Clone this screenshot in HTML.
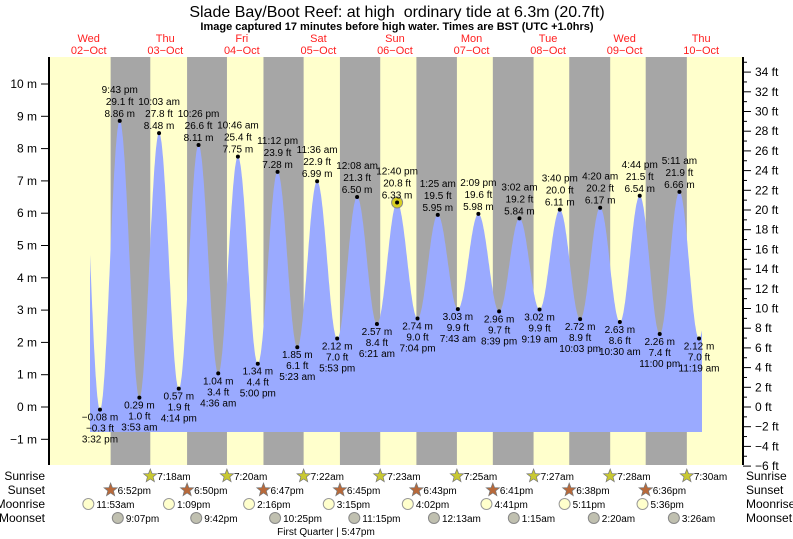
<!DOCTYPE html>
<html><head><meta charset="utf-8"><style>
html,body{margin:0;padding:0;background:#fff;}
svg{display:block;font-family:"Liberation Sans",sans-serif;}
</style></head><body>
<svg id="s" width="793" height="539" viewBox="0 0 793 539" xmlns="http://www.w3.org/2000/svg"></svg>
<script>
const S=document.getElementById('s');let h='';
const X=t=>127+3.19*t, Y=m=>407-32.3*m;
const L=49,R=743,T=57,B=465;
function tx(x,y,s,o){o=o||{};h+=`<text x="${x}" y="${y}" font-size="${o.fs||10}" text-anchor="${o.a||'middle'}" fill="${o.c||'#000'}" ${o.b?'font-weight="bold"':''}>${s}</text>`;}
h+=`<rect x="${L}" y="${T}" width="${R-L}" height="${B-T}" fill="#ffffcc"/>`;
const sunset=[-5.13,18.83,42.78,66.75,90.72,114.68,138.63,162.6];
const sunrise=[7.3,31.33,55.37,79.38,103.42,127.45,151.47,175.5];
for(let i=0;i<8;i++)h+=`<rect x="${X(sunset[i])}" y="${T}" width="${X(sunrise[i])-X(sunset[i])}" height="${B-T}" fill="#a6a6a6"/>`;
const ev=[[-14.6,9.2],[-8.47,-0.08],[-2.28,8.86],[3.88,0.29],[10.05,8.48],[16.23,0.57],[22.43,8.11],[28.6,1.04],[34.77,7.75],[41,1.34],[47.2,7.28],[53.38,1.85],[59.6,6.99],[65.88,2.12],[72.13,6.5],[78.35,2.57],[84.67,6.33],[91.07,2.74],[97.42,5.95],[103.72,3.03],[110.15,5.98],[116.65,2.96],[123.03,5.84],[129.32,3.02],[135.67,6.11],[142.05,2.72],[148.33,6.17],[154.5,2.63],[160.73,6.54],[167,2.26],[173.18,6.66],[179.32,2.12],[185.5,6.7]];
function lvl(t){for(let i=0;i<ev.length-1;i++){const a=ev[i],b=ev[i+1];if(t>=a[0]&&t<=b[0]){const f=(t-a[0])/(b[0]-a[0]);return a[1]+(b[1]-a[1])*(1-Math.cos(Math.PI*f))/2;}}return 0;}
const t0=(90-127)/3.19,t1=(702-127)/3.19;let p=`M${X(t0)},432`;
for(let t=t0;t<=t1;t+=0.1)p+=`L${X(t).toFixed(1)},${Y(lvl(t)).toFixed(1)}`;
p+=`L${X(t1)},${Y(lvl(t1)).toFixed(1)}L${X(t1)},432Z`;
h+=`<path d="${p}" fill="#9aaaff"/>`;
const lab=[["3:32 pm","-0.3",-0.08],["9:43 pm","29.1",8.86],["3:53 am","1.0",0.29],["10:03 am","27.8",8.48],["4:14 pm","1.9",0.57],["10:26 pm","26.6",8.11],["4:36 am","3.4",1.04],["10:46 am","25.4",7.75],["5:00 pm","4.4",1.34],["11:12 pm","23.9",7.28],["5:23 am","6.1",1.85],["11:36 am","22.9",6.99],["5:53 pm","7.0",2.12],["12:08 am","21.3",6.5],["6:21 am","8.4",2.57],["12:40 pm","20.8",6.33],["7:04 pm","9.0",2.74],["1:25 am","19.5",5.95],["7:43 am","9.9",3.03],["2:09 pm","19.6",5.98],["8:39 pm","9.7",2.96],["3:02 am","19.2",5.84],["9:19 am","9.9",3.02],["3:40 pm","20.0",6.11],["10:03 pm","8.9",2.72],["4:20 am","20.2",6.17],["10:30 am","8.6",2.63],["4:44 pm","21.5",6.54],["11:00 pm","7.4",2.26],["5:11 am","21.9",6.66],["11:19 am","7.0",2.12]];
lab.forEach((l,i)=>{const x=X(ev[i+1][0]),y=Y(l[2]);const ms=l[2].toFixed(2).replace('-','\u2212')+' m',fs=l[1].replace('-','\u2212')+' ft';
if(i==15)h+=`<circle cx="${x}" cy="${y}" r="5.5" fill="#d8d020" stroke="#888" stroke-width="1"/>`;
h+=`<circle cx="${x}" cy="${y}" r="2" fill="#000"/>`;
if(i%2==1){tx(x,y-4,ms);tx(x,y-16,fs);tx(x,y-28,l[0]);}else{tx(x,y+11,ms);tx(x,y+22,fs);tx(x,y+33,l[0]);}});
h+=`<line x1="${L}" y1="${T}" x2="${L}" y2="${B}" stroke="#000" stroke-width="2"/><line x1="${R}" y1="${T}" x2="${R}" y2="${B}" stroke="#000" stroke-width="2"/>`;
for(let m=-1;m<=10;m++){const y=Y(m);h+=`<line x1="${L-8}" y1="${y}" x2="${L}" y2="${y}" stroke="#000"/>`;tx(37,y+4,(m<0?'\u2212'+(-m):m)+' m',{fs:12,a:'end'});}
for(let f=-6;f<=35;f++){const y=407-9.85*f;if(y<T)continue;const mj=f%2==0;h+=`<line x1="${R}" y1="${y}" x2="${R+(mj?8:4)}" y2="${y}" stroke="#000"/>`;if(mj)tx(755,y+4,(f<0?'\u2212'+(-f):f)+' ft',{fs:12,a:'start'});}
tx(397,17,'Slade Bay/Boot Reef: at high\u00a0 ordinary tide at 6.3m (20.7ft)',{fs:16});
tx(397,30,'Image captured 17 minutes before high water. Times are BST (UTC +1.0hrs)',{fs:11,b:1});
const days=[['Wed','02\u2212Oct'],['Thu','03\u2212Oct'],['Fri','04\u2212Oct'],['Sat','05\u2212Oct'],['Sun','06\u2212Oct'],['Mon','07\u2212Oct'],['Tue','08\u2212Oct'],['Wed','09\u2212Oct'],['Thu','10\u2212Oct']];
days.forEach((d,i)=>{const x=X(-12+24*i);tx(x,42,d[0],{fs:11,c:'#ff2020'});tx(x,54,d[1],{fs:11,c:'#ff2020'});});
[['Sunrise',480],['Sunset',494],['Moonrise',508],['Moonset',522]].forEach(r=>{tx(45,r[1],r[0],{fs:12,a:'end'});tx(746,r[1],r[0],{fs:12,a:'start'});});
function star(x,y,c){let q='';for(let k=0;k<10;k++){const a=-Math.PI/2+k*Math.PI/5,rr=k%2?3:7;q+=(k?'L':'M')+(x+rr*Math.cos(a)).toFixed(1)+','+(y+rr*Math.sin(a)).toFixed(1);}h+=`<path d="${q}Z" fill="${c}" stroke="#777" stroke-width="0.7"/>`;}
const srT=['7:18am','7:20am','7:22am','7:23am','7:25am','7:27am','7:28am','7:30am'];
const ssT=['6:52pm','6:50pm','6:47pm','6:45pm','6:43pm','6:41pm','6:38pm','6:36pm'];
for(let i=0;i<8;i++){let x=X(sunrise[i]);star(x,476,'#c8c832');tx(x+7,480,srT[i],{a:'start'});x=X(sunset[i]);star(x,490,'#b8693a');tx(x+7,494,ssT[i],{a:'start'});}
const mr=[[-12.12,'11:53am'],[13.15,'1:09pm'],[38.27,'2:16pm'],[63.25,'3:15pm'],[88.03,'4:02pm'],[112.68,'4:41pm'],[137.18,'5:11pm'],[161.6,'5:36pm']];
const ms=[[-2.88,'9:07pm'],[21.7,'9:42pm'],[46.42,'10:25pm'],[71.25,'11:15pm'],[96.22,'12:13am'],[121.25,'1:15am'],[146.33,'2:20am'],[171.43,'3:26am']];
mr.forEach(m=>{const x=X(m[0]);h+=`<circle cx="${x}" cy="${504}" r="5.5" fill="#ffffcc" stroke="#999"/>`;tx(x+8,508,m[1],{a:'start'});});
ms.forEach(m=>{const x=X(m[0]);h+=`<circle cx="${x}" cy="${518}" r="5.5" fill="#c0c0b0" stroke="#888"/>`;tx(x+8,522,m[1],{a:'start'});});
tx(326,535,'First Quarter | 5:47pm');
S.innerHTML=h;
</script>
</body></html>
